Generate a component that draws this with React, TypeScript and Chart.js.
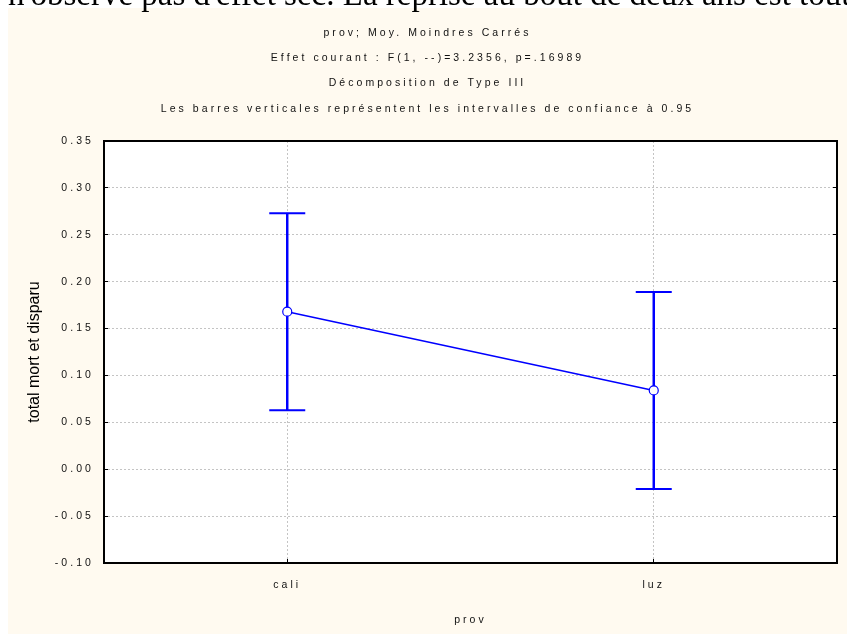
import React, { useEffect, useRef } from 'react';
import { Chart, registerables } from 'chart.js';

Chart.register(...registerables);

// ---- data ----
const categories: string[] = ['cali', 'luz'];
const means: number[] = [0.168, 0.084];
const ciLower: number[] = [0.063, -0.021];
const ciUpper: number[] = [0.273, 0.189];

const yMin = -0.1;
const yMax = 0.35;
const yStep = 0.05;

const titleLines: string[] = [
  'prov; Moy. Moindres Carrés',
  'Effet courant : F(1, --)=3.2356, p=.16989',
  'Décomposition de Type III',
  'Les barres verticales représentent les intervalles de confiance à 0.95',
];
const xTitle = 'prov';
const yTitle = 'total mort et disparu';
const pageText = "n'observe pas d'effet sec. La reprise au bout de deux ans est tout";

// ---- styles ----
const BLUE = 'rgb(0,0,255)';
const CREAM = '#FFFAF0';
const TEXT = '#111111';
const GRID = '#c4c4c4';

function hasFont(name: string): boolean {
  const c = document.createElement('canvas').getContext('2d');
  if (!c) return false;
  const s = 'abcdefghijklmnopqrstuvwxyz0123456789';
  c.font = '40px monospace';
  const w1 = c.measureText(s).width;
  c.font = `40px "${name}", monospace`;
  const w2 = c.measureText(s).width;
  return Math.abs(w1 - w2) > 0.5;
}

function fixSize(w: number | null, h: number | null) {
  return (s: any) => {
    if (w !== null) s.width = w;
    if (h !== null) s.height = h;
    s.paddingLeft = 0;
    s.paddingRight = 0;
    s.paddingTop = 0;
    s.paddingBottom = 0;
  };
}

export default function App() {
  const ref = useRef<HTMLCanvasElement | null>(null);

  useEffect(() => {
    if (!ref.current) return;
    const narrow = hasFont('Liberation Sans Narrow');
    const FAMILY = narrow
      ? "'Liberation Sans Narrow', 'Liberation Sans', Arial, sans-serif"
      : "'Liberation Sans', Arial, sans-serif";
    const SIZE = narrow ? 11 : 10.5;
    const SPACING = narrow ? '3.7px' : '3.05px';
    const YFAMILY = "'Liberation Sans', Arial, sans-serif";

    const framePlugin = {
      id: 'frame',
      beforeLayout(chart: any) {
        chart.ctx.letterSpacing = SPACING;
      },
      beforeDraw(chart: any) {
        const { ctx, chartArea: a } = chart;
        ctx.letterSpacing = SPACING;
        ctx.save();
        ctx.fillStyle = '#ffffff';
        ctx.fillRect(a.left, a.top, a.right - a.left, a.bottom - a.top);
        ctx.restore();
        const y = chart.scales.y;
        if (y && !y.__noSpacing) {
          const orig = y.drawTitle;
          y.drawTitle = function (...args: any[]) {
            const prev = ctx.letterSpacing;
            ctx.letterSpacing = '0px';
            orig.apply(this, args);
            ctx.letterSpacing = prev;
          };
          y.__noSpacing = true;
        }
      },
      afterDraw(chart: any) {
        const { ctx, chartArea: a } = chart;
        ctx.save();
        ctx.strokeStyle = '#000000';
        ctx.lineWidth = 2;
        ctx.strokeRect(a.left, a.top, a.right - a.left, a.bottom - a.top);
        ctx.restore();
      },
    };

    const chart = new Chart(ref.current, {
      type: 'bar',
      data: {
        labels: categories,
        datasets: [
          {
            type: 'line',
            label: 'moyenne',
            data: means,
            borderColor: BLUE,
            borderWidth: 1.5,
            pointRadius: 4.5,
            pointBackgroundColor: '#ffffff',
            pointBorderColor: BLUE,
            pointBorderWidth: 1.2,
            order: 0,
          } as any,
          {
            type: 'line',
            label: 'haut',
            data: ciUpper,
            showLine: false,
            pointStyle: 'line',
            pointRadius: 18,
            pointBorderWidth: 2,
            pointBorderColor: BLUE,
            borderColor: BLUE,
            order: 1,
          } as any,
          {
            type: 'line',
            label: 'bas',
            data: ciLower,
            showLine: false,
            pointStyle: 'line',
            pointRadius: 18,
            pointBorderWidth: 2,
            pointBorderColor: BLUE,
            borderColor: BLUE,
            order: 1,
          } as any,
          {
            type: 'bar',
            label: 'IC 95%',
            data: categories.map((_, i) => [ciLower[i], ciUpper[i]]),
            backgroundColor: BLUE,
            borderWidth: 0,
            barThickness: 1.8,
            order: 2,
          } as any,
        ],
      },
      options: {
        animation: false,
        responsive: false,
        layout: { autoPadding: false, padding: { left: 0, right: 0, top: 0, bottom: 0 } },
        plugins: {
          legend: { display: false },
          tooltip: { enabled: false },
          title: {
            display: true,
            text: titleLines,
            color: TEXT,
            font: { family: FAMILY, size: SIZE, weight: 'normal', lineHeight: '25.3px' } as any,
            padding: { top: 12.35, bottom: 19.45 },
          },
        },
        scales: {
          x: {
            type: 'category',
            offset: true,
            afterFit: fixSize(null, 71),
            grid: {
              offset: false,
              color: GRID,
              lineWidth: 1,
              drawTicks: true,
              tickLength: -4,
              tickColor: '#000000',
              tickWidth: 1,
            },
            border: { display: false, dash: [2, 2] },
            ticks: { color: TEXT, font: { family: FAMILY, size: SIZE }, padding: 20 },
            title: {
              display: true,
              text: xTitle,
              color: TEXT,
              font: { family: FAMILY, size: SIZE },
              padding: { top: 0, bottom: 8 },
            },
          },
          y: {
            type: 'linear',
            position: 'left',
            min: yMin,
            max: yMax,
            afterFit: fixSize(96, null),
            grid: {
              color: GRID,
              lineWidth: 1,
              drawTicks: true,
              tickLength: -4,
              tickColor: '#000000',
              tickWidth: 1,
            },
            border: { display: false, dash: [2, 2] },
            ticks: {
              stepSize: yStep,
              color: TEXT,
              font: { family: FAMILY, size: SIZE },
              padding: 14,
              callback: (v: any) => {
                const n = Math.round(Number(v) * 100) / 100;
                return (n === 0 ? 0 : n).toFixed(2);
              },
            },
            title: {
              display: true,
              text: yTitle,
              color: '#000000',
              font: { family: YFAMILY, size: 16 },
              padding: { top: 17, bottom: 0 },
            },
          },
          y2: {
            type: 'linear',
            position: 'right',
            min: yMin,
            max: yMax,
            afterFit: fixSize(10, null),
            grid: {
              drawOnChartArea: false,
              drawTicks: true,
              tickLength: -4,
              tickColor: '#000000',
              tickWidth: 1,
            },
            border: { display: false },
            ticks: { display: false, stepSize: yStep, padding: 0 },
            title: { display: false },
          },
        },
      },
      plugins: [framePlugin],
    } as any);
    return () => chart.destroy();
  }, []);

  return (
    <div
      style={{
        position: 'fixed',
        left: 0,
        top: 0,
        width: 847,
        height: 634,
        overflow: 'hidden',
        background: '#ffffff',
      }}
    >
      <div style={{ position: 'absolute', left: 8, top: 8, width: 839, height: 626, background: CREAM }}>
        <canvas ref={ref} width={839} height={626} style={{ display: 'block' }} />
      </div>
      <div
        style={{
          position: 'absolute',
          left: 0,
          top: 0,
          width: 847,
          height: 12,
          overflow: 'hidden',
          pointerEvents: 'none',
        }}
      >
        <div
          style={{
            position: 'absolute',
            left: 8,
            top: -22,
            fontFamily: "'Liberation Serif', 'Times New Roman', serif",
            fontSize: 33,
            lineHeight: '33px',
            whiteSpace: 'nowrap',
            color: '#000',
          }}
        >
          {pageText}
        </div>
      </div>
    </div>
  );
}
